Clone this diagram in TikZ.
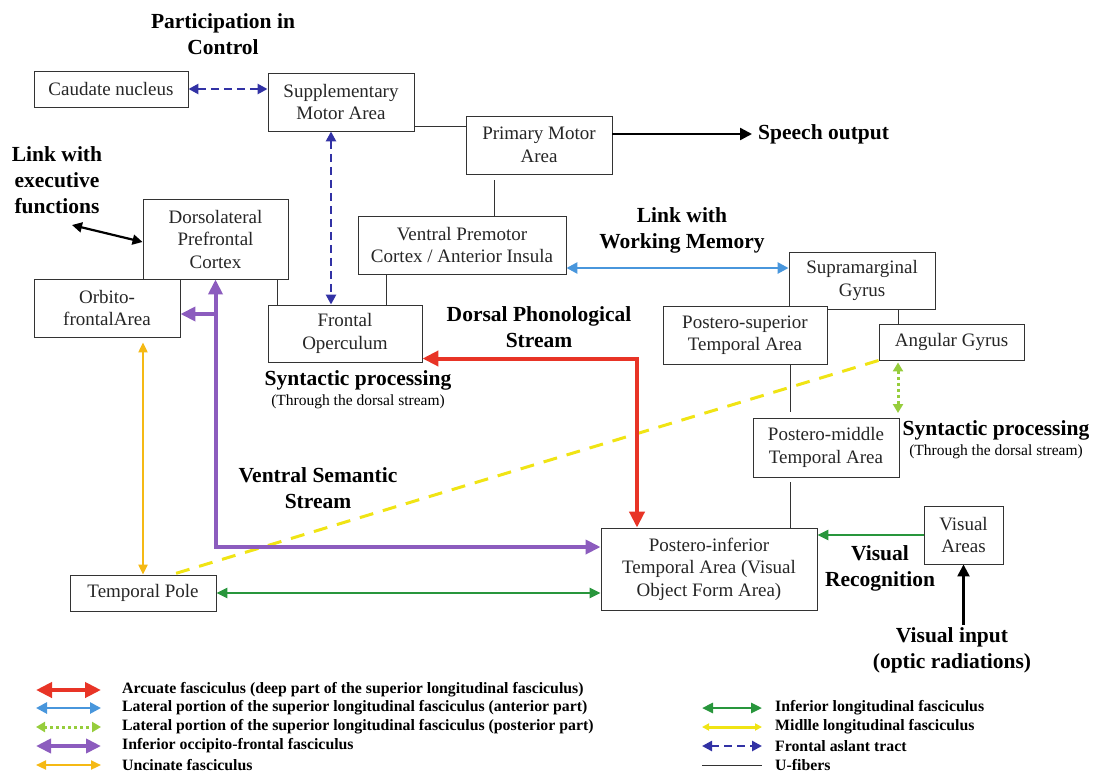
\documentclass[tikz,border=0pt]{standalone}
\usepackage{fontspec}
\setmainfont{Liberation Serif}
\usepackage{tikz}
\usetikzlibrary{arrows.meta}

\definecolor{arcred}{RGB}{232,52,38}
\definecolor{slfblue}{RGB}{72,150,220}
\definecolor{slfgreen}{RGB}{150,205,60}
\definecolor{ifopurple}{RGB}{140,92,190}
\definecolor{uncgold}{RGB}{245,185,20}
\definecolor{ilfgreen}{RGB}{40,150,60}
\definecolor{mlfyellow}{RGB}{240,228,20}
\definecolor{fatblue}{RGB}{50,50,165}

\begin{document}
\begin{tikzpicture}[x=1pt, y=-1pt,
  area/.style={draw=black!80, line width=0.9pt, fill=white, align=center, inner sep=0pt,
    text=black!85, font=\fontsize{19}{22.5}\selectfont},
  tag/.style={align=center, inner sep=0pt, font=\bfseries\fontsize{21.5}{26}\selectfont},
  subtag/.style={inner sep=0pt, font=\fontsize{15.5}{18}\selectfont},
  key/.style={anchor=west, inner sep=0pt, font=\bfseries\fontsize{15.8}{18}\selectfont},
  ufiber/.style={draw=black!80, line width=0.8pt},
  signal/.style={draw=black, line width=2.4pt, arrows={-Triangle[length=12pt,width=12pt]}},
  signalboth/.style={draw=black, line width=2.2pt, arrows={Triangle[length=10pt,width=10pt]-Triangle[length=10pt,width=10pt]}},
  arc/.style={draw=arcred, line width=4pt, arrows={Triangle[length=16pt,width=15pt]-Triangle[length=16pt,width=15pt]}},
  slfa/.style={draw=slfblue, line width=2.6pt, arrows={Triangle[length=11pt,width=11pt]-Triangle[length=11pt,width=11pt]}},
  slfp/.style={draw=slfgreen, line width=3pt, dash pattern=on 3pt off 3pt, arrows={Triangle[length=9pt,width=10pt]-Triangle[length=9pt,width=10pt]}},
  ifof/.style={draw=ifopurple, line width=4pt, arrows={Triangle[length=15pt,width=14pt]-Triangle[length=15pt,width=14pt]}},
  unc/.style={draw=uncgold, line width=2.2pt, arrows={Triangle[length=10pt,width=9pt]-Triangle[length=10pt,width=9pt]}},
  ilf/.style={draw=ilfgreen, line width=2.6pt, arrows={Triangle[length=11pt,width=10pt]-Triangle[length=11pt,width=10pt]}},
  ilfin/.style={draw=ilfgreen, line width=2.6pt, arrows={-Triangle[length=11pt,width=10pt]}},
  mlf/.style={draw=mlfyellow, line width=3pt, dash pattern=on 14pt off 10pt},
  mlfkey/.style={draw=mlfyellow, line width=3pt, arrows={Triangle[length=7pt,width=7pt]-Triangle[length=7pt,width=7pt]}},
  fat/.style={draw=fatblue, line width=2.5pt, dash pattern=on 8pt off 5pt, arrows={Triangle[length=10pt,width=10pt]-Triangle[length=10pt,width=10pt]}}]

\useasboundingbox (0,0) rectangle (1097,774);

% areas
\node[area, minimum width=154pt, minimum height=36pt] (caud) at (111,89) {Caudate nucleus};
\node[area, minimum width=146pt, minimum height=58pt] (sma) at (341,102) {Supplementary\\Motor Area};
\node[area, minimum width=146pt, minimum height=58pt] (pma) at (539,145) {Primary Motor\\Area};
\node[area, minimum width=145pt, minimum height=80pt] (dlpfc) at (215.5,239) {Dorsolateral\\Prefrontal\\Cortex};
\node[area, minimum width=208pt, minimum height=58pt] (vpm) at (462,245) {Ventral Premotor\\Cortex / Anterior Insula};
\node[area, minimum width=146pt, minimum height=57pt] (smg) at (862,280.5) {Supramarginal\\Gyrus};
\node[area, minimum width=146pt, minimum height=58pt] (ofa) at (107,308) {Orbito-\\frontalArea};
\node[area, minimum width=154pt, minimum height=57pt] (fop) at (345,333.5) {Frontal\\Operculum};
\node[area, minimum width=164pt, minimum height=58pt] (pst) at (745,335) {Postero-superior\\Temporal Area};
\node[area, minimum width=145pt, minimum height=36pt] (ang) at (951.5,342) {Angular Gyrus};
\node[area, minimum width=146pt, minimum height=59pt] (pmt) at (826,447.5) {Postero-middle\\Temporal Area};
\node[area, minimum width=216pt, minimum height=82pt] (pit) at (709,569) {Postero-inferior\\Temporal Area (Visual\\Object Form Area)};
\node[area, minimum width=79pt, minimum height=58pt] (vis) at (963.5,535) {Visual\\Areas};
\node[area, minimum width=146pt, minimum height=36pt] (tp) at (143,593) {Temporal Pole};

% labels
\node[tag] (partic) at (223,34) {Participation in\\Control};
\node[tag] (exec) at (57,180) {Link with\\executive\\functions};
\node[tag, anchor=west] (speech) at (758,134) {Speech output};
\node[tag] (wmem) at (682,230) {Link with\\Working Memory};
\node[tag] (dorsal) at (539,327) {Dorsal Phonological\\Stream};
\node[tag] (synl) at (358,380) {Syntactic processing};
\node[subtag] (synlsub) at (358,402) {(Through the dorsal stream)};
\node[tag] (synr) at (996,430) {Syntactic processing};
\node[subtag] (synrsub) at (996,452) {(Through the dorsal stream)};
\node[tag] (ventral) at (318,488) {Ventral Semantic\\Stream};
\node[tag] (visrec) at (880,568) {Visual\\Recognition};
\node[tag] (visin) at (952,650) {Visual input\\(optic radiations)};
\coordinate (execend) at (72,225);
\coordinate (synrtop) at (898,413);

% U-fibers
\draw[ufiber] ([yshift=-24pt]sma.east) -- ([yshift=-24pt]sma.east -| pma.west);
\draw[ufiber, shorten <=6pt] ([xshift=-45pt]pma.south) -- ([xshift=-45pt]pma.south |- vpm.north);
\draw[ufiber] ([xshift=-68pt]fop.north) -- ([xshift=-68pt]fop.north |- dlpfc.south);
\draw[ufiber] ([xshift=41pt]fop.north) -- ([xshift=41pt]fop.north |- vpm.south);
\draw[ufiber] ([xshift=-53.5pt]ang.north) -- ([xshift=-53.5pt]ang.north |- smg.south);
\draw[ufiber, shorten <=6pt] ([xshift=-36pt]pmt.north) -- ([xshift=-36pt]pmt.north |- pst.south);
\draw[ufiber, shorten <=5pt] ([xshift=-36pt]pmt.south) -- ([xshift=-36pt]pmt.south |- pit.north);

% tracts
\draw[mlf] (ang.south west) -- ([xshift=29pt]tp.north);
\draw[fat] (caud.east) -- (caud.east -| sma.west);
\draw[fat] ([xshift=-10pt]sma.south) -- ([xshift=-10pt]sma.south |- fop.north);
\draw[arc] ([yshift=-25pt]fop.east) -| ([xshift=-72pt]pit.north);
\draw[slfa] ([yshift=-23pt]vpm.east) -- ([yshift=-23pt]vpm.east -| smg.west);
\draw[slfp] ([xshift=-53.5pt,yshift=-2pt]ang.south) -- (synrtop);
\draw[ifof] (dlpfc.south) |- ([yshift=22pt]pit.west);
\draw[ifof, arrows={-Triangle[length=15pt,width=14pt]}] (dlpfc.south |- 0,314) -- (ofa.east |- 0,314);
\draw[unc, shorten <=5pt] (tp.north |- ofa.south) -- (tp.north);
\draw[ilf] (tp.east) -- (tp.east -| pit.west);
\draw[ilfin] (vis.west) -- (vis.west -| pit.east);
\draw[signal] ([yshift=11pt]pma.east) -- ([xshift=-6pt]speech.west);
\draw[signalboth] (execend) -- ([yshift=-3pt]dlpfc.west);
\draw[signal, shorten <=2pt] (vis.south |- visin.north) -- (vis.south);

% legend
\foreach \sty/\ypos/\txt [count=\i] in {
  arc/690/Arcuate fasciculus (deep part of the superior longitudinal fasciculus),
  slfa/708/Lateral portion of the superior longitudinal fasciculus (anterior part),
  slfp/727/Lateral portion of the superior longitudinal fasciculus (posterior part),
  ifof/746/Inferior occipito-frontal fasciculus,
  unc/765/Uncinate fasciculus}
{
  \node[key] (keyl\i) at (122,\ypos) {\txt};
  \draw[\sty] ([xshift=-86pt]keyl\i.west) -- ([xshift=-21pt]keyl\i.west);
}
\foreach \sty/\ypos/\txt [count=\i] in {
  ilf/708/Inferior longitudinal fasciculus,
  mlfkey/727/Midlle longitudinal fasciculus,
  fat/746/Frontal aslant tract,
  ufiber/765/U-fibers}
{
  \node[key] (keyr\i) at (775,\ypos) {\txt};
  \draw[\sty] ([xshift=-73pt]keyr\i.west) -- ([xshift=-13pt]keyr\i.west);
}

\end{tikzpicture}
\end{document}
